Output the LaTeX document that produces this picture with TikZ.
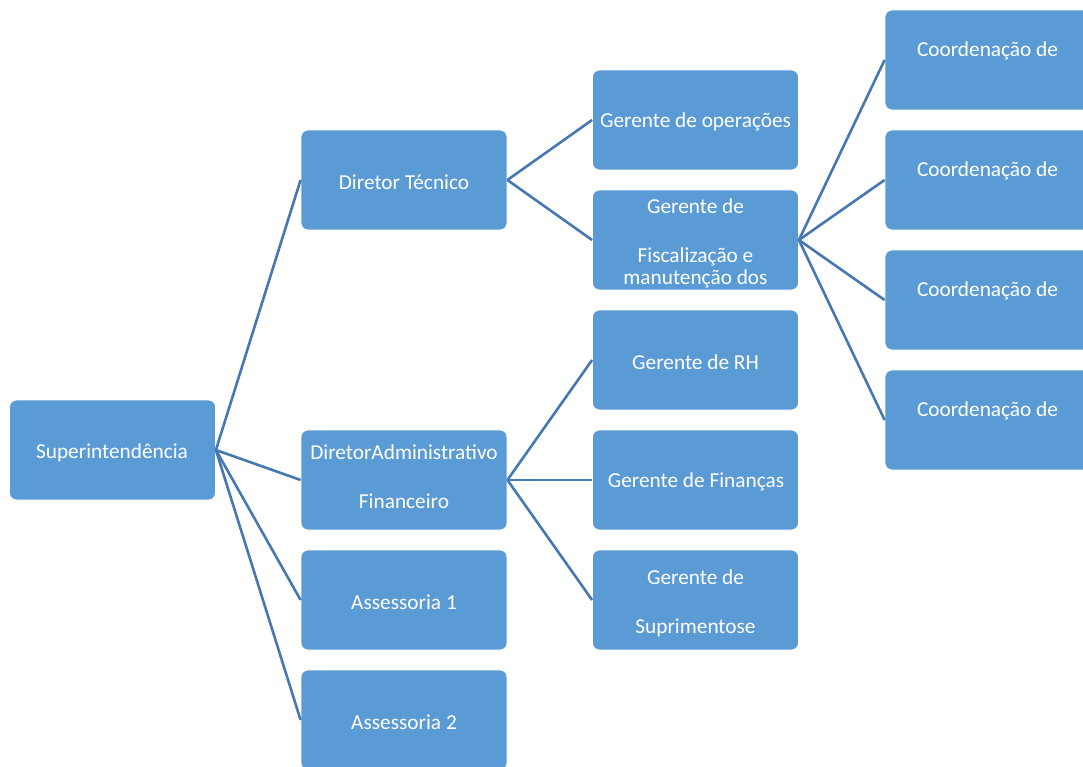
\documentclass[tikz,border=0pt]{standalone}
\usepackage{fontspec}
\setmainfont{Carlito}
\definecolor{boxblue}{RGB}{91,155,213}
\definecolor{linkblue}{RGB}{70,120,178}
\begin{document}
\begin{tikzpicture}[x=1pt,y=-1pt,
  orgbox/.style={draw=white,line width=0.8pt,fill=boxblue,rounded corners=7pt,
    minimum width=206pt,minimum height=100pt,inner sep=0pt},
  lbl/.style={text=white,align=center,font=\fontsize{21.3}{22}\selectfont,inner sep=0pt},
  link/.style={linkblue,line width=2.6pt}]
\useasboundingbox (0,0) rectangle (1083,767);
% boxes
\node[orgbox] (sup) at (112.5,450) {};
\node[orgbox] (dt) at (404,180) {};
\node[orgbox] (daf) at (404,480) {};
\node[orgbox] (as1) at (404,600) {};
\node[orgbox] (as2) at (404,720) {};
\node[orgbox] (gop) at (695.5,120) {};
\node[orgbox] (gfm) at (695.5,240) {};
\node[orgbox] (grh) at (695.5,360) {};
\node[orgbox] (gfi) at (695.5,480) {};
\node[orgbox] (gsu) at (695.5,600) {};
\node[orgbox] (c1) at (988,60) {};
\node[orgbox] (c2) at (988,180) {};
\node[orgbox] (c3) at (988,300) {};
\node[orgbox] (c4) at (988,420) {};
% labels
\node[lbl] (lsup) at (112,453) {Superintend\^encia};
\node[lbl] (ldt) at (404,182) {Diretor T\'ecnico};
\node[lbl] (ldaf) at (404,477) {DiretorAdministrativo\\[27pt]Financeiro};
\node[lbl] (las1) at (404,602) {Assessoria 1};
\node[lbl] (las2) at (404,722) {Assessoria 2};
\node[lbl] (lgop) at (695.5,122) {Gerente de opera\c{c}\~oes};
\node[lbl] (lgfm) at (695.5,243) {Gerente de\\[27pt]Fiscaliza\c{c}\~ao e\\manuten\c{c}\~ao dos};
\node[lbl] (lgrh) at (695.5,362) {Gerente de RH};
\node[lbl] (lgfi) at (696,482) {Gerente de Finan\c{c}as};
\node[lbl] (lgsu) at (695.5,603) {Gerente de\\[27pt]Suprimentose};
\node[lbl] (t1) at (987.5,51) {Coordena\c{c}\~ao de};
\node[lbl] (t2) at (987.5,171) {Coordena\c{c}\~ao de};
\node[lbl] (t3) at (987.5,291) {Coordena\c{c}\~ao de};
\node[lbl] (t4) at (987.5,411) {Coordena\c{c}\~ao de};
% connectors
\foreach \c in {dt,daf,as1,as2} \draw[link] (sup.east) -- (\c.west);
\foreach \c in {gop,gfm} \draw[link] (dt.east) -- (\c.west);
\foreach \c in {grh,gfi,gsu} \draw[link] (daf.east) -- (\c.west);
\foreach \c in {c1,c2,c3,c4} \draw[link] (gfm.east) -- (\c.west);
\end{tikzpicture}
\end{document}
